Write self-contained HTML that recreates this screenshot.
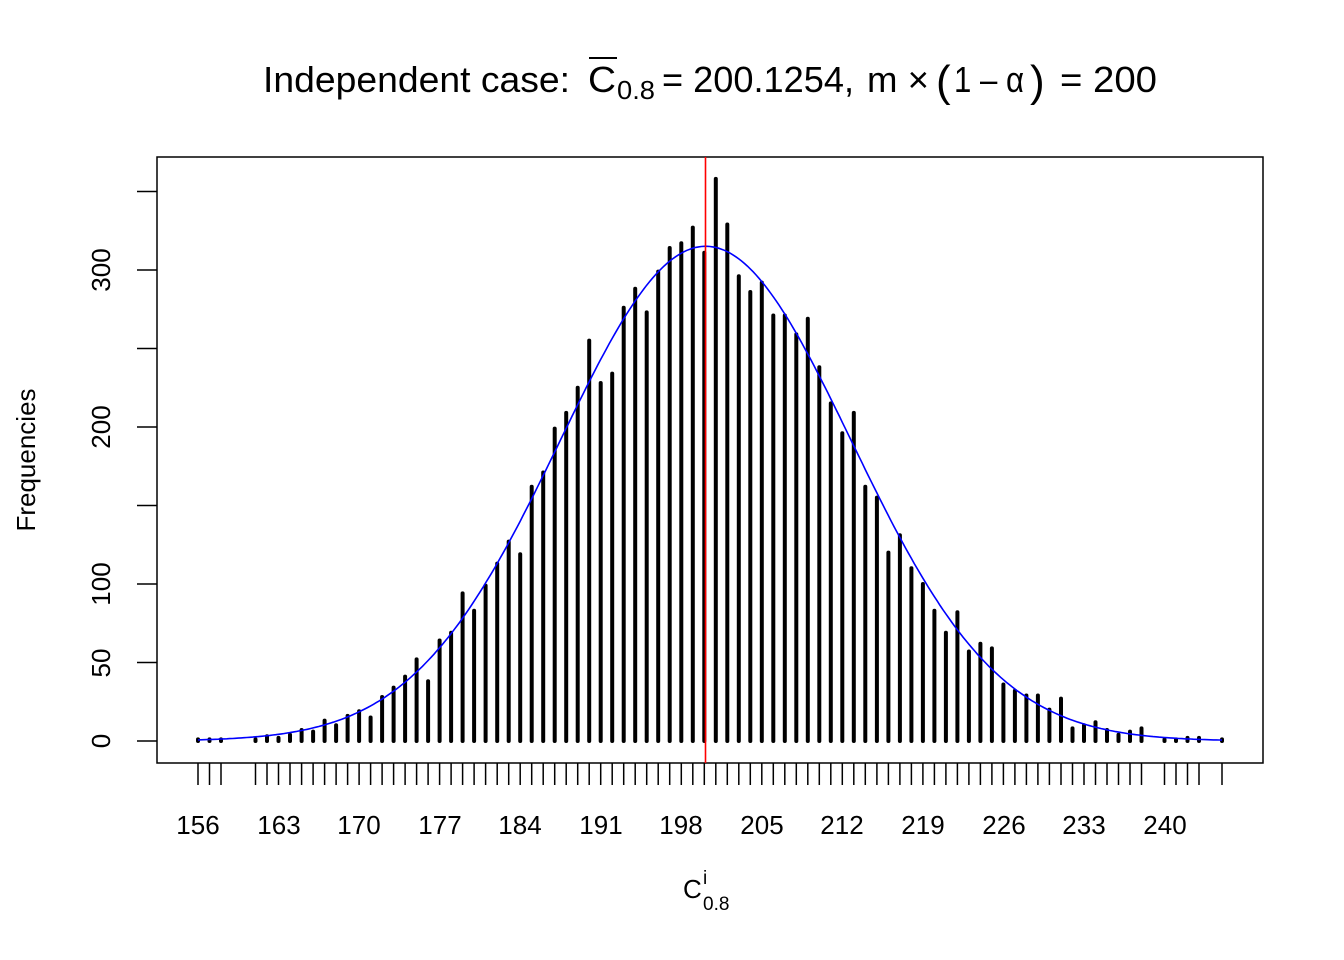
<!DOCTYPE html>
<html><head><meta charset="utf-8"><style>
html,body{margin:0;padding:0;background:#fff;}
svg{display:block;font-family:"Liberation Sans",Arial,sans-serif;}
</style></head><body>
<svg id="s" width="1344" height="960" viewBox="0 0 1344 960" xmlns="http://www.w3.org/2000/svg">
<rect x="0" y="0" width="1344" height="960" fill="#fff"/>
<g font-size="36" fill="#000">
<text x="263" y="92" textLength="307" lengthAdjust="spacingAndGlyphs">Independent case:</text>
<text x="588" y="92" textLength="28" lengthAdjust="spacingAndGlyphs">C</text>
<text x="617" y="99" font-size="26" textLength="38" lengthAdjust="spacingAndGlyphs">0.8</text>
<text x="662" y="92" textLength="192" lengthAdjust="spacingAndGlyphs">= 200.1254,</text>
<text x="867" y="92" textLength="62" lengthAdjust="spacingAndGlyphs">m ×</text>
<text x="936" y="96" font-size="44">(</text>
<text x="954" y="92" textLength="70" lengthAdjust="spacingAndGlyphs">1 – α</text>
<text x="1030" y="96" font-size="44">)</text>
<text x="1060" y="92" textLength="97" lengthAdjust="spacingAndGlyphs">= 200</text>
</g>
<line x1="589" y1="58" x2="617" y2="58" stroke="#000" stroke-width="2"/>
<rect x="157" y="157" width="1106" height="606" fill="none" stroke="#000" stroke-width="1.5"/>
<g id="yt" stroke="#000" stroke-width="1.5"></g>
<g font-size="26" text-anchor="middle">
<text transform="translate(110,741) rotate(-90)">0</text>
<text transform="translate(110,663) rotate(-90)">50</text>
<text transform="translate(110,584) rotate(-90)">100</text>
<text transform="translate(110,427) rotate(-90)">200</text>
<text transform="translate(110,270) rotate(-90)">300</text>
<text transform="translate(35,460) rotate(-90)">Frequencies</text>
</g>
<g font-size="26" text-anchor="middle">
<text x="198" y="834">156</text><text x="279" y="834">163</text><text x="359" y="834">170</text>
<text x="440" y="834">177</text><text x="520" y="834">184</text><text x="601" y="834">191</text>
<text x="681" y="834">198</text><text x="762" y="834">205</text><text x="842" y="834">212</text>
<text x="923" y="834">219</text><text x="1004" y="834">226</text><text x="1084" y="834">233</text>
<text x="1165" y="834">240</text>
</g>
<text x="683" y="898" font-size="26">C</text>
<text x="703" y="884" font-size="19">i</text>
<text x="703" y="910" font-size="19">0.8</text>
<g id="bars"></g>
<path id="curve" fill="none" stroke="#0000ff" stroke-width="1.6"/>
<line x1="705.5" y1="157" x2="705.5" y2="763" stroke="#ff0000" stroke-width="1.6"/>
</svg>
<script>
var d={156:1,157:1,158:1,161:1,162:3,163:2,164:4,165:7,166:6,167:13,168:10,169:16,170:19,171:15,172:28,173:34,174:41,175:52,176:38,177:64,178:69,179:94,180:83,181:99,182:113,183:127,184:119,185:162,186:171,187:199,188:209,189:225,190:255,191:228,192:234,193:276,194:288,195:273,196:299,197:314,198:317,199:327,200:311,201:358,202:329,203:296,204:286,205:292,206:271,207:271,208:259,209:269,210:238,211:215,212:196,213:209,214:162,215:155,216:120,217:131,218:110,219:100,220:83,221:69,222:82,223:57,224:62,225:59,226:36,227:32,228:29,229:29,230:20,231:27,232:8,233:10,234:12,235:7,236:4,237:6,238:8,240:1,241:1,242:2,243:2,245:1};
function X(v){return 198+(v-156)*11.506;}
function Y(c){return 741-c*1.57;}
var b=document.getElementById('bars'),h='';
for(var k in d){var x=X(+k).toFixed(1);
h+='<line x1="'+x+'" y1="741" x2="'+x+'" y2="'+Y(d[k]).toFixed(1)+'" stroke="#000" stroke-width="4" stroke-linecap="round"/>';
h+='<line x1="'+x+'" y1="763" x2="'+x+'" y2="785" stroke="#000" stroke-width="1.5"/>';}
b.innerHTML=h;
var yt='';[0,50,100,150,200,250,300,350].forEach(function(v){var y=Y(v).toFixed(1);yt+='<line x1="137" y1="'+y+'" x2="157" y2="'+y+'"/>';});
document.getElementById('yt').innerHTML=yt;
var m=200.1254,s=12.66,N=10000,p='';
for(var v=156;v<=245.001;v+=0.25){var c=N/(s*Math.sqrt(2*Math.PI))*Math.exp(-(v-m)*(v-m)/(2*s*s));
p+=(p?'L':'M')+X(v).toFixed(1)+' '+Y(c).toFixed(1);}
document.getElementById('curve').setAttribute('d',p);
</script>
</body></html>
